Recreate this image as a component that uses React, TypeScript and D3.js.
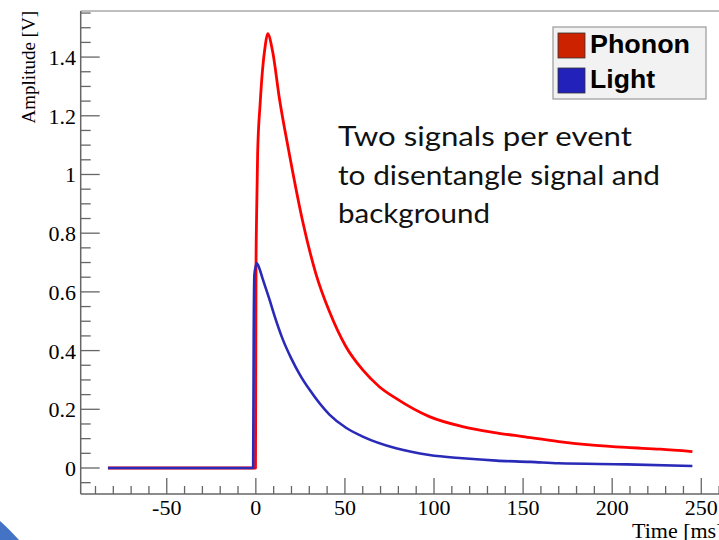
import React from 'react'
import * as d3 from 'd3'

// Phonon channel (red): time in ms, amplitude in V
const phononTime = [-83, -0.2, 0.1, 0.4, 1.0, 2.4, 3.8, 5.2, 6.6, 9.4, 13.2, 18.8, 26.3, 33.8, 41.3, 50.6, 60, 69.3, 78.7, 97.4, 116, 135, 150, 170, 189, 208, 227, 245]
const phononAmp = [0, 0, 0.69, 0.85, 1.07, 1.24, 1.36, 1.435, 1.48, 1.42, 1.26, 1.07, 0.84, 0.66, 0.533, 0.413, 0.334, 0.277, 0.237, 0.175, 0.141, 0.12, 0.107, 0.09, 0.078, 0.07, 0.064, 0.056]

// Light channel (blue)
const lightTime = [-83, -1.5, -1.2, -0.8, 0.5, 2, 3.8, 7.6, 10.4, 15, 20, 25, 30, 41.3, 50.6, 60, 78.7, 97.4, 116, 135, 154, 170, 208, 245]
const lightAmp = [0, 0, 0.45, 0.66, 0.697, 0.68, 0.645, 0.575, 0.52, 0.44, 0.372, 0.315, 0.268, 0.182, 0.137, 0.107, 0.067, 0.044, 0.033, 0.025, 0.021, 0.016, 0.0125, 0.007]

const xMajor = [-50, 0, 50, 100, 150, 200, 250]
const yMajor = [0, 0.2, 0.4, 0.6, 0.8, 1, 1.2, 1.4]
const legendNames = ['Phonon', 'Light']
const noteLines = ['Two signals per event', 'to disentangle signal and', 'background']

const W = 719
const H = 540
const serif = '"Liberation Serif", "Times New Roman", serif'

export default function App() {
  const x = d3.scaleLinear().domain([-98.3, 265]).range([80.7, 728])
  const y = d3.scaleLinear().domain([-0.0886, 1.557]).range([494, 11])
  const [x0, x1] = x.range()
  const [y0, y1] = y.range()

  const line = d3
    .line<[number, number]>()
    .x(d => x(d[0]))
    .y(d => y(d[1]))
    .curve(d3.curveMonotoneX)

  const phonon = phononTime.map((t, i) => [t, phononAmp[i]] as [number, number])
  const light = lightTime.map((t, i) => [t, lightAmp[i]] as [number, number])

  const xMinor = d3.range(-90, 265, 10).filter(v => v % 50 !== 0)
  const yMinor = d3.range(-0.05, 1.56, 0.05).filter(v => Math.abs(v * 5 - Math.round(v * 5)) > 0.01)

  const colors = ['#cc2200', '#2222bb']
  const lineColors = ['#ff0000', '#2a2ab8']
  const legendLen = [100, 65]
  const noteLen = [294, 322, 152]

  return (
    <svg
      width={W}
      height={H}
      style={{ position: 'absolute', left: 0, top: 0, background: '#fff' }}
    >
      {/* frame */}
      <line x1={x0} x2={x1} y1={y1} y2={y1} stroke="#aaa" strokeWidth={1.5} />
      <line x1={x0} x2={x0} y1={y0} y2={y1} stroke="#666" strokeWidth={1.5} />
      <line x1={x0} x2={x1} y1={y0} y2={y0} stroke="#666" strokeWidth={1.5} />

      {/* y ticks */}
      {yMajor.map(v => (
        <g key={'ym' + v}>
          <line x1={x0} x2={x0 + 19} y1={y(v)} y2={y(v)} stroke="#666" strokeWidth={1.3} />
          <text x={76} y={y(v) + 8} textAnchor="end" fontFamily={serif} fontSize={22}>
            {v}
          </text>
        </g>
      ))}
      {yMinor.map(v => (
        <line key={'yn' + v} x1={x0} x2={x0 + 10} y1={y(v)} y2={y(v)} stroke="#666" strokeWidth={1.3} />
      ))}

      {/* x ticks */}
      {xMajor.map(v => (
        <g key={'xm' + v}>
          <line x1={x(v)} x2={x(v)} y1={y0} y2={y0 - 16} stroke="#666" strokeWidth={1.3} />
          <text x={x(v)} y={515} textAnchor="middle" fontFamily={serif} fontSize={22}>
            {v}
          </text>
        </g>
      ))}
      {xMinor.map(v => (
        <line key={'xn' + v} x1={x(v)} x2={x(v)} y1={y0} y2={y0 - 8} stroke="#666" strokeWidth={1.3} />
      ))}

      {/* axis titles */}
      <text transform={`translate(35,11) rotate(-90)`} textAnchor="end" fontFamily={serif} fontSize={19}>
        Amplitude [V]
      </text>
      <text x={632} y={538} fontFamily={serif} fontSize={22}>
        Time [ms]
      </text>

      {/* signals */}
      <path d={line(phonon) || ''} fill="none" stroke={lineColors[0]} strokeWidth={2.8} strokeLinejoin="round" />
      <path d={line(light) || ''} fill="none" stroke={lineColors[1]} strokeWidth={2.6} strokeLinejoin="round" />

      {/* legend */}
      <rect x={553} y={27} width={153} height={72} fill="#f2f2f2" stroke="#999" strokeWidth={1.2} />
      {legendNames.map((name, i) => (
        <g key={name}>
          <rect x={558} y={33 + i * 35} width={27} height={25} fill={colors[i]} stroke="#333" strokeWidth={0.8} />
          <text
            x={590}
            y={53 + i * 35}
            fontFamily="Arial, 'Liberation Sans', sans-serif"
            fontWeight="bold"
            fontSize={25}
            textLength={legendLen[i]}
            lengthAdjust="spacingAndGlyphs"
          >
            {name}
          </text>
        </g>
      ))}

      {/* slide note */}
      {noteLines.map((t, i) => (
        <text
          key={t}
          x={338}
          y={146 + i * 38.5}
          fontFamily="Lato, sans-serif"
          fontSize={27}
          fill="#111"
          textLength={noteLen[i]}
          lengthAdjust="spacingAndGlyphs"
        >
          {t}
        </text>
      ))}

      {/* slide corner decoration */}
      <path d="M0,521 Q8,528 19,540 L0,540 Z" fill="#4472c4" />
    </svg>
  )
}
